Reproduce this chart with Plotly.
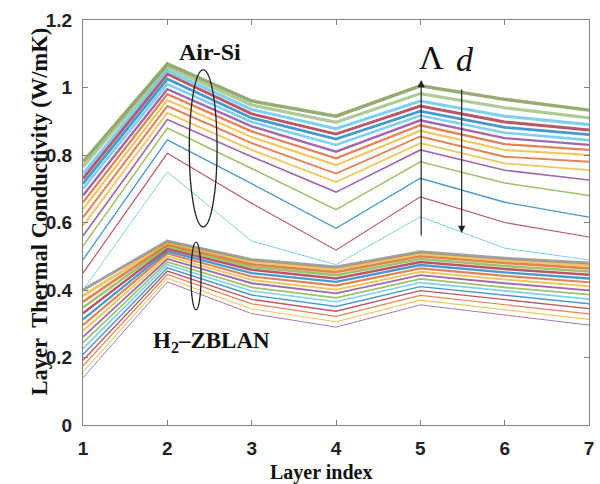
import plotly.graph_objects as go

layer_index = [1, 2, 3, 4, 5, 6, 7]

# Air-Si curves, bottom -> top
air_si = [
    [0.400, 0.750, 0.545, 0.475, 0.617, 0.524, 0.489],
    [0.450, 0.805, 0.657, 0.518, 0.676, 0.600, 0.557],
    [0.490, 0.845, 0.715, 0.583, 0.731, 0.660, 0.616],
    [0.530, 0.880, 0.760, 0.638, 0.780, 0.717, 0.680],
    [0.560, 0.905, 0.795, 0.690, 0.815, 0.755, 0.726],
    [0.590, 0.925, 0.815, 0.720, 0.835, 0.775, 0.755],
    [0.615, 0.945, 0.835, 0.745, 0.855, 0.795, 0.780],
    [0.640, 0.963, 0.853, 0.770, 0.872, 0.815, 0.800],
    [0.660, 0.980, 0.870, 0.790, 0.888, 0.832, 0.815],
    [0.680, 0.995, 0.885, 0.810, 0.903, 0.850, 0.830],
    [0.700, 1.010, 0.898, 0.830, 0.917, 0.866, 0.844],
    [0.715, 1.025, 0.910, 0.847, 0.930, 0.882, 0.860],
    [0.730, 1.040, 0.922, 0.862, 0.945, 0.898, 0.874],
    [0.745, 1.050, 0.935, 0.878, 0.960, 0.915, 0.890],
    [0.765, 1.060, 0.948, 0.897, 0.982, 0.940, 0.910],
    [0.780, 1.070, 0.960, 0.915, 1.005, 0.965, 0.933],
]

# H2-ZBLAN curves, bottom -> top
h2_zblan = [
    [0.140, 0.424, 0.330, 0.290, 0.356, 0.326, 0.296],
    [0.157, 0.435, 0.344, 0.306, 0.370, 0.341, 0.313],
    [0.175, 0.446, 0.359, 0.322, 0.384, 0.356, 0.329],
    [0.192, 0.456, 0.372, 0.337, 0.398, 0.371, 0.345],
    [0.209, 0.466, 0.385, 0.351, 0.410, 0.384, 0.359],
    [0.227, 0.475, 0.397, 0.365, 0.422, 0.397, 0.373],
    [0.244, 0.483, 0.408, 0.377, 0.433, 0.408, 0.386],
    [0.261, 0.492, 0.420, 0.390, 0.444, 0.420, 0.399],
    [0.279, 0.500, 0.430, 0.401, 0.454, 0.431, 0.411],
    [0.296, 0.508, 0.440, 0.413, 0.464, 0.442, 0.423],
    [0.313, 0.515, 0.450, 0.424, 0.474, 0.452, 0.434],
    [0.331, 0.522, 0.460, 0.434, 0.483, 0.462, 0.445],
    [0.348, 0.529, 0.468, 0.444, 0.492, 0.471, 0.455],
    [0.365, 0.535, 0.476, 0.453, 0.500, 0.480, 0.464],
    [0.383, 0.540, 0.484, 0.461, 0.507, 0.487, 0.473],
    [0.400, 0.545, 0.490, 0.468, 0.513, 0.494, 0.480],
]

y_ticks = [0, 0.2, 0.4, 0.6, 0.8, 1.0, 1.2]
y_tick_labels = ["0", "0.2", "0.4", "0.6", "0.8", "1", "1.2"]

air_colors = ['#4DBEEE', '#A2142F', '#0072BD', '#77AC30', '#7E2F8E', '#EDB120',
              '#D95319', '#EDB120', '#D95319', '#7E2F8E', '#4DBEEE', '#0072BD',
              '#A2142F', '#4DBEEE', '#8FB870', '#6E8B3D']
h2_colors = ['#7E2F8E', '#EDB120', '#D95319', '#A2142F', '#0072BD', '#4DBEEE',
             '#77AC30', '#7E2F8E', '#EDB120', '#D95319', '#0072BD', '#A2142F',
             '#77AC30', '#D95319', '#EDB120', '#7E7E7E']

fig = go.Figure()
for i, ys in enumerate(h2_zblan):
    fig.add_trace(go.Scatter(x=layer_index, y=ys, mode="lines", showlegend=False,
                             opacity=0.72,
                             line=dict(color=h2_colors[i % len(h2_colors)], width=0.9 + 0.14 * i)))
for i, ys in enumerate(air_si):
    fig.add_trace(go.Scatter(x=layer_index, y=ys, mode="lines", showlegend=False,
                             opacity=0.72,
                             line=dict(color=air_colors[i % len(air_colors)], width=1.0 + 0.16 * i)))

serif = "Liberation Serif, Times New Roman, serif"
sans = "Liberation Sans, Arial, sans-serif"
axis_col = "#808080"

fig.update_layout(
    width=600, height=484,
    margin=dict(l=83, r=6, t=20, b=59),
    paper_bgcolor="white", plot_bgcolor="white",
    xaxis=dict(range=[1, 7], tickvals=layer_index, ticks="inside", ticklen=5,
               showline=True, linecolor=axis_col, linewidth=1, mirror="ticks",
               tickcolor=axis_col, showgrid=False, zeroline=False,
               tickfont=dict(family=sans, size=19, color="#222", weight="bold"),
               ticklabelstandoff=6),
    yaxis=dict(range=[0, 1.2], tickvals=y_ticks, ticktext=y_tick_labels, ticks="inside",
               ticklen=5, showline=True, linecolor=axis_col, linewidth=1, mirror="ticks",
               tickcolor=axis_col, showgrid=False, zeroline=False,
               tickfont=dict(family=sans, size=19, color="#222", weight="bold"),
               ticklabelstandoff=6),
)

# axis titles
fig.add_annotation(xref="paper", yref="paper", x=0.47, y=0, yshift=-47,
                   xanchor="center", yanchor="middle",
                   text="<b>Layer index</b>", showarrow=False,
                   font=dict(family=serif, size=20, color="#111"))
fig.add_annotation(xref="paper", yref="paper", x=0, xshift=-43, y=0.527,
                   xanchor="center", yanchor="middle",
                   text="<b>Layer  Thermal Conductivity (W/mK)</b>", showarrow=False,
                   textangle=-90, font=dict(family=serif, size=22.5, color="#111"))

fig.add_annotation(x=2.5, y=1.105, text="<b>Air-Si</b>", showarrow=False,
                   font=dict(family=serif, size=24, color="#111"))
fig.add_annotation(x=2.52, y=0.246, text="<b>H<sub>2</sub>–ZBLAN</b>", showarrow=False,
                   font=dict(family=serif, size=23, color="#111"))
fig.add_annotation(x=5.13, y=1.09, text="Λ", showarrow=False,
                   font=dict(family=serif, size=34, color="#111"))
fig.add_annotation(x=5.53, y=1.083, text="<i>d</i>", showarrow=False,
                   font=dict(family=serif, size=34, color="#111"))

# arrows
fig.add_annotation(x=5.01, y=1.022, ax=5.01, ay=0.557, xref="x", yref="y",
                   axref="x", ayref="y", text="", showarrow=True,
                   arrowhead=2, arrowsize=1.2, arrowwidth=1.2, arrowcolor="#222")
fig.add_annotation(x=5.49, y=0.569, ax=5.49, ay=0.999, xref="x", yref="y",
                   axref="x", ayref="y", text="", showarrow=True,
                   arrowhead=2, arrowsize=1.2, arrowwidth=1.2, arrowcolor="#222")

# ellipses
fig.add_shape(type="circle", xref="x", yref="y", x0=2.26, x1=2.59, y0=0.587, y1=1.052,
              line=dict(color="#222", width=1.3))
fig.add_shape(type="circle", xref="x", yref="y", x0=2.28, x1=2.40, y0=0.341, y1=0.542,
              line=dict(color="#222", width=1.3))

fig.write_html("out.html", config={"displayModeBar": False},
               post_script="document.body.style.margin='0';document.body.style.overflow='hidden';")
